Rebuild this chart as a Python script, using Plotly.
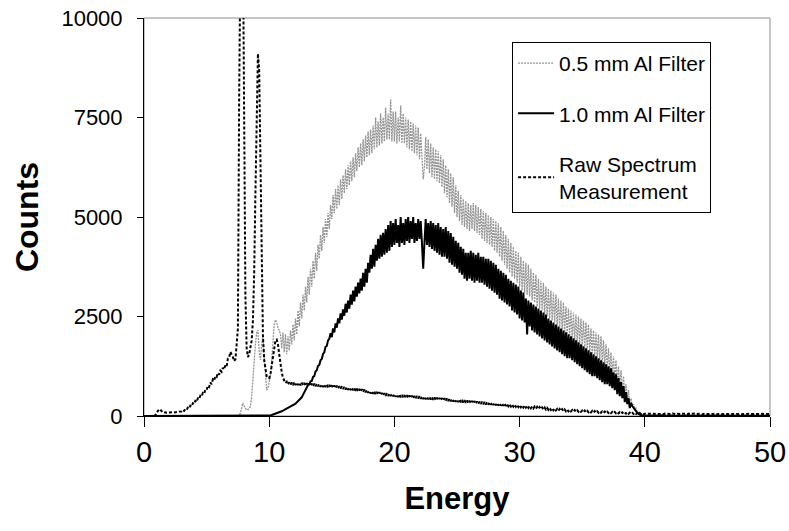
import plotly.graph_objects as go

# channel energies (keV), 0.0 .. 50.0 in 0.1 keV channels
energy = [round(i * 0.1, 1) for i in range(501)]

filter_05mm = [
    0, 0, 0, 0, 0, 0, 0, 0, 0, 0,
    0, 0, 0, 0, 0, 0, 0, 0, 0, 0,
    0, 0, 0, 0, 0, 0, 0, 0, 0, 0,
    0, 0, 0, 0, 0, 0, 0, 0, 0, 0,
    0, 0, 0, 0, 0, 0, 0, 0, 0, 0,
    0, 0, 0, 0, 0, 0, 0, 0, 0, 0,
    0, 0, 0, 0, 0, 0, 0, 0, 0, 0,
    0, 0, 0, 0, 0, 0, 20, 70, 200, 330,
    250, 180, 150, 160, 200, 235, 500, 1000, 1410, 1800,
    2100, 2160, 1600, 1410, 1800, 2000, 1500, 900, 650, 700,
    830, 1000, 1400, 1900, 2300, 2415, 2350, 2200, 2160, 2050,
    1700, 2100, 1600, 2050, 1550, 2000, 1650, 2150, 1800, 2300,
    1900, 2450, 2050, 2650, 2250, 2850, 2450, 3050, 2650, 3250,
    2850, 3500, 3050, 3700, 3250, 3900, 3450, 4100, 3650, 4300,
    3950, 4550, 4150, 4750, 4350, 4950, 4500, 5100, 4700, 5300,
    4950, 5550, 5100, 5700, 5200, 5800, 5300, 5950, 5450, 6050,
    5600, 6200, 5700, 6300, 5800, 6400, 5900, 6500, 6000, 6600,
    6150, 6750, 6250, 6850, 6300, 6950, 6400, 7050, 6500, 7150,
    6550, 7200, 6600, 7300, 6700, 7500, 6750, 7400, 6800, 7600,
    6850, 7500, 6900, 7750, 6950, 7600, 6950, 7950, 6900, 7650,
    6900, 7650, 6850, 7500, 6900, 7800, 6850, 7600, 6850, 7500,
    6750, 7450, 6700, 7400, 6650, 7350, 6600, 7300, 6550, 7250,
    6450, 7100, 6350, 5950, 6250, 7000, 6200, 6950, 6100, 6850,
    6000, 6750, 5950, 6700, 5900, 6650, 5850, 6550, 5750, 6450,
    5600, 6300, 5500, 6200, 5350, 6100, 5250, 6000, 5100, 5800,
    5000, 5650, 4900, 5550, 4800, 5450, 4750, 5400, 4700, 5350,
    4650, 5300, 4700, 5350, 4650, 5300, 4600, 5250, 4550, 5200,
    4450, 5150, 4400, 5100, 4350, 5050, 4300, 5000, 4250, 4950,
    4150, 4900, 4100, 4850, 4000, 4750, 3900, 4650, 3800, 4550,
    3700, 4450, 3600, 4350, 3500, 4250, 3450, 4150, 3350, 4100,
    3250, 4000, 3150, 3900, 3100, 3850, 3050, 3800, 3000, 3700,
    2900, 3600, 2850, 3550, 2750, 3450, 2700, 3400, 2650, 3350,
    2550, 3250, 2500, 3200, 2450, 3150, 2400, 3100, 2350, 3050,
    2250, 2950, 2200, 2900, 2150, 2850, 2100, 2750, 2050, 2700,
    2000, 2650, 1950, 2600, 1900, 2550, 1850, 2500, 1800, 2450,
    1750, 2400, 1700, 2350, 1650, 2300, 1600, 2200, 1550, 2150,
    1500, 2100, 1450, 2050, 1400, 2000, 1350, 1900, 1250, 1800,
    1200, 1700, 1100, 1600, 1000, 1500, 900, 1400, 800, 1250,
    700, 1150, 600, 1000, 500, 800, 400, 650, 300, 450,
    250, 300, 180, 200, 110, 90, 60, 45, 35, 30,
    25, 30, 20, 28, 22, 35, 18, 26, 30, 21,
    27, 19, 32, 24, 28, 20, 33, 25, 22, 29,
    21, 30, 26, 18, 31, 24, 27, 20, 29, 23,
    26, 20, 28, 32, 19, 25, 30, 22, 27, 18,
    29, 23, 20, 27, 31, 22, 26, 19, 28, 24,
    20, 28, 25, 30, 21, 27, 23, 29, 19, 26,
    24, 31, 19, 26, 22, 28, 25, 20, 30, 23,
    27, 21, 29, 24, 18, 26, 30, 22, 25, 28,
    22, 27, 24, 20, 29, 23, 26, 31, 21, 25,
    28, 20, 26, 23, 30, 24, 19, 27, 25, 22,
    24,
]

filter_10mm = [
    0, 0, 0, 0, 0, 0, 0, 0, 0, 0,
    0, 0, 0, 0, 0, 0, 0, 0, 0, 0,
    0, 0, 0, 0, 0, 0, 0, 0, 0, 0,
    0, 0, 0, 0, 0, 0, 0, 0, 0, 0,
    0, 0, 0, 0, 0, 0, 0, 0, 0, 0,
    0, 0, 0, 0, 0, 0, 0, 0, 0, 0,
    0, 0, 0, 0, 0, 0, 0, 0, 0, 0,
    0, 0, 0, 0, 0, 0, 0, 0, 0, 0,
    0, 0, 0, 0, 0, 0, 0, 0, 0, 0,
    0, 0, 0, 0, 0, 0, 0, 0, 0, 0,
    10, 15, 25, 35, 45, 55, 70, 80, 95, 105,
    120, 135, 150, 165, 180, 195, 210, 225, 245, 265,
    290, 310, 340, 360, 390, 420, 470, 530, 590, 650,
    700, 780, 790, 870, 880, 980, 1000, 1120, 1150, 1260,
    1280, 1400, 1430, 1560, 1600, 1740, 1760, 1900, 1940, 2080,
    1980, 2200, 2100, 2330, 2220, 2450, 2330, 2580, 2420, 2680,
    2520, 2820, 2600, 2900, 2700, 3050, 2800, 3150, 2880, 3250,
    3000, 3350, 3080, 3450, 3150, 3600, 3250, 3700, 3350, 3850,
    3600, 4050, 3700, 4200, 3750, 4300, 3900, 4450, 3950, 4550,
    4000, 4600, 4050, 4700, 4100, 4800, 4150, 4900, 4250, 4850,
    4300, 4950, 4350, 4800, 4250, 5000, 4350, 4850, 4300, 4950,
    4400, 5000, 4350, 4900, 4450, 5000, 4350, 4850, 4400, 4950,
    4450, 4900, 4350, 3700, 4350, 4950, 4300, 4850, 4250, 4900,
    4200, 4850, 4150, 4800, 4100, 4850, 4050, 4750, 4000, 4700,
    4000, 4750, 3950, 4650, 3850, 4600, 3800, 4500, 3750, 4400,
    3700, 4350, 3600, 4250, 3550, 4200, 3450, 4100, 3400, 4100,
    3450, 4150, 3400, 4100, 3350, 4050, 3400, 4100, 3350, 4000,
    3350, 4000, 3300, 3950, 3250, 3950, 3200, 3900, 3150, 3850,
    3100, 3800, 3050, 3700, 2950, 3650, 2900, 3600, 2850, 3550,
    2800, 3450, 2750, 3400, 2650, 3350, 2600, 3300, 2550, 3250,
    2450, 3150, 2400, 3100, 2350, 2950, 2050, 2900, 2250, 2850,
    2150, 2800, 2100, 2750, 2050, 2700, 2000, 2650, 1950, 2600,
    1900, 2550, 1850, 2450, 1800, 2400, 1750, 2350, 1700, 2300,
    1650, 2250, 1600, 2200, 1550, 2150, 1500, 2100, 1450, 2050,
    1450, 2000, 1400, 1950, 1350, 1900, 1300, 1850, 1250, 1800,
    1200, 1750, 1150, 1700, 1100, 1650, 1050, 1600, 1000, 1550,
    1000, 1500, 950, 1450, 900, 1400, 850, 1350, 800, 1300,
    800, 1250, 750, 1200, 700, 1100, 650, 1050, 550, 950,
    500, 850, 450, 750, 350, 600, 300, 450, 200, 330,
    250, 200, 150, 120, 80, 50, 30, 20, 15, 10,
    8, 12, 5, 10, 6, 9, 4, 11, 7, 5,
    9, 4, 8, 6, 10, 5, 7, 3, 9, 6,
    5, 8, 4, 7, 3, 9, 6, 4, 8, 5,
    7, 3, 6, 9, 4, 5, 8, 3, 6, 7,
    4, 7, 5, 3, 8, 6, 4, 7, 5, 3,
    6, 4, 7, 5, 3, 8, 5, 4, 6, 7,
    3, 6, 4, 8, 5, 3, 7, 4, 6, 5,
    5, 3, 7, 4, 6, 5, 3, 8, 4, 6,
    4, 6, 3, 5, 7, 4, 6, 3, 5, 4,
    6, 3, 5, 4, 3, 6, 4, 5, 3, 5,
    4,
]

raw_spectrum = [
    0, 0, 0, 0, 0, 0, 0, 0, 0, 20,
    60, 130, 170, 160, 120, 90, 80, 90, 80, 85,
    80, 90, 85, 95, 90, 100, 95, 105, 110, 120,
    115, 150, 130, 170, 150, 210, 190, 260, 240, 320,
    300, 380, 350, 440, 420, 510, 490, 580, 560, 660,
    650, 760, 730, 840, 800, 920, 890, 1000, 980, 1080,
    1040, 1140, 1110, 1210, 1170, 1280, 1250, 1440, 1470, 1610,
    1560, 1480, 1380, 1420, 1800, 2200, 8000, 13000, 15000, 12000,
    7000, 3000, 1700, 1480, 1550, 1700, 1900, 2400, 3600, 5600,
    7600, 9100, 8700, 6500, 3800, 2000, 1400, 1150, 1000, 960,
    950, 1050, 1250, 1500, 1750, 1900, 1920, 1800, 1550, 1300,
    1100, 960, 900, 830, 860, 790, 845, 785, 840, 780,
    845, 775, 840, 780, 835, 770, 840, 775, 830, 770,
    825, 760, 820, 755, 815, 750, 810, 745, 805, 745,
    800, 735, 795, 730, 790, 725, 785, 720, 780, 715,
    770, 705, 765, 700, 760, 695, 750, 690, 745, 680,
    730, 665, 725, 660, 715, 650, 710, 645, 700, 635,
    690, 620, 680, 610, 675, 605, 665, 595, 655, 585,
    630, 565, 625, 555, 615, 545, 605, 540, 600, 530,
    580, 515, 575, 510, 570, 505, 560, 500, 555, 495,
    545, 480, 540, 475, 535, 470, 530, 470, 525, 465,
    520, 455, 515, 450, 510, 445, 505, 445, 500, 440,
    495, 430, 490, 425, 485, 420, 480, 420, 475, 415,
    470, 405, 465, 400, 460, 395, 455, 395, 450, 390,
    445, 380, 440, 375, 435, 370, 425, 365, 420, 360,
    415, 350, 410, 345, 400, 340, 395, 335, 390, 330,
    385, 320, 380, 315, 375, 310, 365, 305, 360, 300,
    355, 295, 350, 290, 345, 285, 340, 280, 335, 275,
    330, 270, 325, 265, 320, 260, 315, 255, 310, 250,
    300, 245, 295, 240, 290, 235, 285, 230, 280, 225,
    275, 220, 270, 215, 265, 210, 260, 205, 250, 195,
    240, 190, 235, 185, 230, 180, 225, 175, 215, 165,
    210, 160, 205, 155, 200, 150, 195, 145, 185, 140,
    180, 135, 175, 130, 170, 125, 165, 120, 160, 118,
    155, 115, 150, 112, 148, 110, 145, 108, 140, 105,
    138, 100, 135, 98, 132, 95, 130, 92, 128, 90,
    124, 86, 120, 84, 118, 82, 115, 80, 112, 78,
    108, 74, 105, 72, 102, 70, 100, 68, 98, 66,
    95, 62, 92, 60, 90, 58, 88, 56, 85, 55,
    82, 52, 80, 50, 78, 48, 76, 46, 74, 45,
    57, 52, 60, 48, 55, 62, 50, 58, 53, 61,
    49, 56, 63, 51, 57, 46, 60, 54, 50, 59,
    55, 48, 62, 53, 57, 45, 58, 52, 60, 47,
    54, 61, 50, 56, 44, 59, 52, 57, 49, 55,
    60, 47, 53, 58, 51, 56, 43, 57, 50, 54,
    48, 58, 52, 45, 56, 51, 59, 46, 53, 50,
    55, 44, 57, 50, 53, 47, 56, 49, 52, 58,
    46, 53, 49, 55, 42, 51, 54, 47, 50, 56,
    52, 45, 50, 55, 48, 53, 44, 51, 49, 54,
    47, 52, 50, 43, 55, 49, 46, 51, 48, 53,
    50,
]

series_names = ["0.5 mm Al Filter", "1.0 mm Al Filter", "Raw Spectrum<br>Measurement"]
x_ticks = [0, 10, 20, 30, 40, 50]
y_ticks = [0, 2500, 5000, 7500, 10000]
y_tick_labels = ["0", "2500", "5000", "7500", "10000"]

FONT = "Liberation Sans, Arial, sans-serif"

fig = go.Figure()
fig.add_trace(go.Scatter(
    x=energy, y=filter_05mm, mode="lines", name=series_names[0], legendgroup="a",
    line=dict(color="#949494", width=1.3, dash="2px,1px"),
))
fig.add_trace(go.Scatter(
    x=energy, y=filter_10mm, mode="lines", name=series_names[1], legendgroup="b",
    line=dict(color="black", width=2),
))
fig.add_trace(go.Scatter(
    x=energy, y=raw_spectrum, mode="lines", name=series_names[2], legendgroup="c",
    line=dict(color="black", width=2, dash="3px,2px"),
))

fig.update_layout(
    width=789, height=531,
    margin=dict(l=144, r=19, t=18, b=115),
    paper_bgcolor="white", plot_bgcolor="white",
    font=dict(family=FONT, color="black"),
    showlegend=True,
    legend=dict(
        x=0.588, y=0.94, xanchor="left", yanchor="top",
        bgcolor="white", bordercolor="black", borderwidth=1,
        font=dict(size=21, family=FONT, color="black"),
        tracegroupgap=20, itemwidth=36,
    ),
    shapes=[dict(type="rect", xref="paper", yref="paper", x0=0, x1=1, y0=0, y1=1,
                 line=dict(color="#8c8c8c", width=1), layer="below")],
)
fig.update_xaxes(
    range=[0, 50], tickvals=x_ticks, ticks="outside", ticklen=10, tickcolor="black",
    showline=True, linecolor="black", linewidth=1, showgrid=False, zeroline=False,
    automargin=False,
    tickfont=dict(size=29, family=FONT, color="black"),
    title=dict(text="<b>Energy</b>", font=dict(size=31, family=FONT, color="black"), standoff=20),
)
fig.update_yaxes(
    range=[0, 10000], tickvals=y_ticks, ticktext=y_tick_labels, ticks="outside", ticklen=6,
    ticklabelstandoff=10,
    tickcolor="black", showline=True, linecolor="black", linewidth=1, showgrid=False,
    zeroline=False, automargin=False,
    tickfont=dict(size=22, family=FONT, color="black"),
    title=dict(text="<b>Counts</b>", font=dict(size=32, family=FONT, color="black"), standoff=13),
)

fig.write_html("out.html")
